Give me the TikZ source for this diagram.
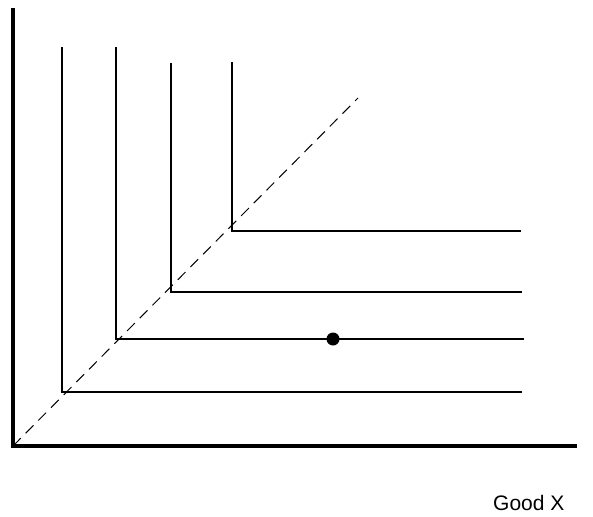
\documentclass[tikz,border=0pt]{standalone}
\usepackage{fontspec}
\setmainfont{Liberation Sans}
\begin{document}
\begin{tikzpicture}[x=1pt,y=-1pt,
  axis/.style={line width=4.5pt},
  curve/.style={line width=1.6pt},
  diag/.style={line width=1pt,dash pattern=on 11pt off 7pt},
  lbl/.style={font=\fontsize{21}{25}\selectfont,inner sep=0pt}]
\useasboundingbox (0,0) rectangle (593,516);
\coordinate (O) at (13,446);
\coordinate (ytop) at (13,10);
\coordinate (xend) at (575,446);
\draw[axis,line cap=rect] (ytop) -- (O) -- (xend);
\coordinate (d1) at (358,98);
\draw[diag] (O) -- (d1);
\coordinate (a1) at (62,47); \coordinate (c1) at (62,392); \coordinate (e1) at (522,392);
\coordinate (a2) at (116,47); \coordinate (c2) at (116,339); \coordinate (e2) at (524,339);
\coordinate (a3) at (171,63); \coordinate (c3) at (171,292); \coordinate (e3) at (522,292);
\coordinate (a4) at (232,62); \coordinate (c4) at (232,231); \coordinate (e4) at (521,231);
\draw[curve] (a1) -- (c1) -- (e1);
\draw[curve] (a2) -- (c2) -- (e2);
\draw[curve] (a3) -- (c3) -- (e3);
\draw[curve] (a4) -- (c4) -- (e4);
\node[circle,fill=black,minimum size=13pt,inner sep=0pt] (dot) at (333,339) {};
\node[lbl,anchor=base west] (gx) at (493,510) {Good X};
\end{tikzpicture}
\end{document}
